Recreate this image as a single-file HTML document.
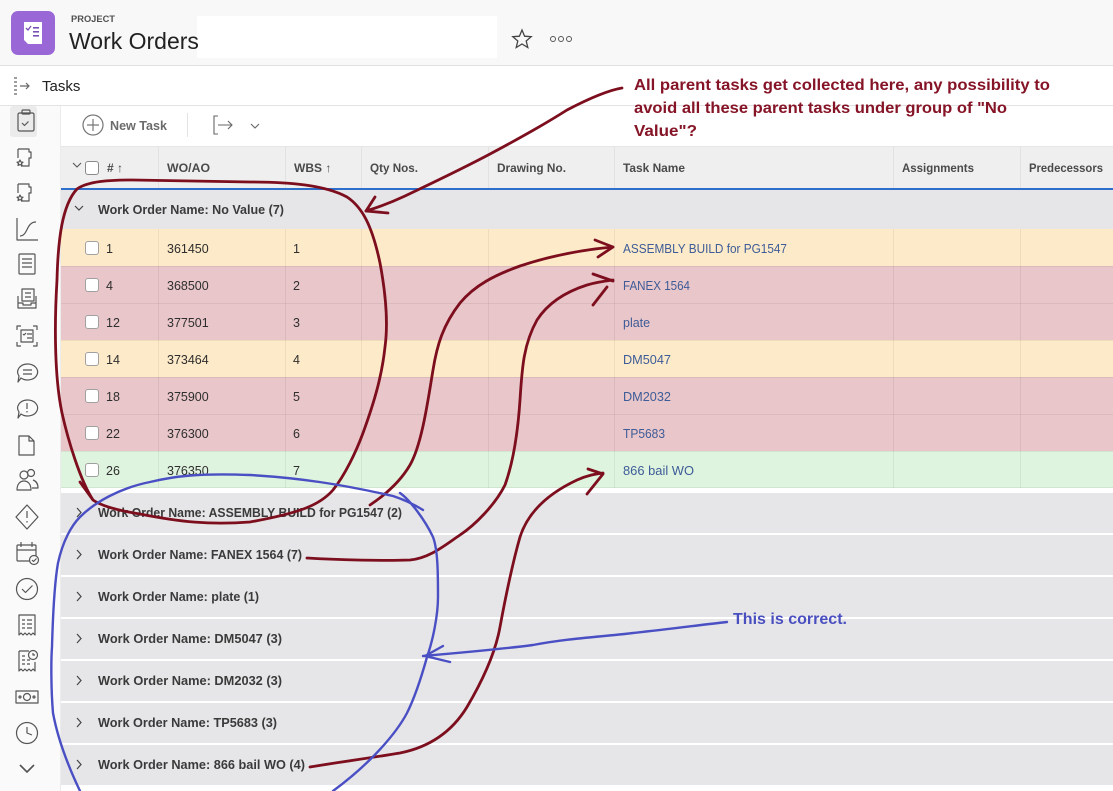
<!DOCTYPE html>
<html><head><meta charset="utf-8"><style>
html,body{margin:0;padding:0;background:#fff;}
svg{display:block;}
text{font-family:"Liberation Sans",Arial,sans-serif;}
</style></head><body>
<svg width="1113" height="791" viewBox="0 0 1113 791" xmlns="http://www.w3.org/2000/svg">
<!-- header -->
<rect x="0" y="0" width="1113" height="65" fill="#f8f8f8"/>
<rect x="197" y="16" width="300" height="42" fill="#ffffff"/>
<rect x="0" y="65" width="1113" height="1" fill="#e0e0e0"/>
<rect x="11" y="11" width="44" height="44" rx="7" fill="#9a68d6"/>
<path d="M24 22 h18 v22 h-14 l-4 -4 z" fill="#fff"/>
<path d="M26 28 l2 2 l3 -4" stroke="#7a50b8" stroke-width="1.3" fill="none"/>
<rect x="33" y="27" width="6" height="1.6" fill="#7a50b8"/><rect x="33" y="31" width="6" height="1.6" fill="#7a50b8"/><rect x="33" y="35" width="6" height="1.6" fill="#7a50b8"/>
<text x="71" y="22" font-size="9" font-weight="bold" fill="#505050" textLength="44" lengthAdjust="spacingAndGlyphs">PROJECT</text>
<text x="69" y="49" font-size="23" fill="#222">Work Orders</text>
<path d="M522 30 l2.6 6.2 l6.6 .5 l-5 4.3 l1.6 6.5 l-5.8 -3.5 l-5.8 3.5 l1.6 -6.5 l-5 -4.3 l6.6 -.5 z" fill="none" stroke="#444" stroke-width="1.3"/>
<circle cx="553" cy="39" r="2.5" fill="none" stroke="#555" stroke-width="1"/><circle cx="561" cy="39" r="2.5" fill="none" stroke="#555" stroke-width="1"/><circle cx="569" cy="39" r="2.5" fill="none" stroke="#555" stroke-width="1"/>
<!-- tasks bar -->
<rect x="0" y="66" width="1113" height="39" fill="#fff"/>
<g stroke="#666" stroke-width="1.2" fill="none"><path d="M14 78 h3 M14 82 h3 M14 86 h3 M14 90 h3 M14 94 h3"/><path d="M20 86 h9 M26 83 l3 3 l-3 3"/></g>
<text x="42" y="91" font-size="15" fill="#222">Tasks</text>
<rect x="0" y="105" width="1113" height="1" fill="#e3e3e3"/>
<!-- sidebar -->
<rect x="0" y="106" width="60" height="685" fill="#fafafa"/>
<rect x="60" y="106" width="1" height="685" fill="#ececec"/>
<rect x="10" y="106" width="27" height="31" rx="3" fill="#ebebeb"/>
<g stroke="#555" stroke-width="1.2" fill="none" stroke-linejoin="round">
<!-- clipboard -->
<rect x="18" y="113" width="16" height="18" rx="1.5"/><rect x="22" y="110" width="8" height="4" rx="1"/><path d="M22 123 l2.5 2.5 l4 -4"/>
<!-- docs with star -->
<path d="M18 149 h11 v3 h2 v6 h-2 v8 h-8 M18 149 v9"/><path d="M20 160 l1 2 l2 .2 l-1.5 1.3 l.5 2 l-2 -1 l-2 1 l.5 -2 l-1.5 -1.3 l2 -.2 z"/>
<path d="M18 184 h11 v3 h2 v6 h-2 v8 h-8 M18 184 v9"/><path d="M20 195 l1 2 l2 .2 l-1.5 1.3 l.5 2 l-2 -1 l-2 1 l.5 -2 l-1.5 -1.3 l2 -.2 z"/>
<!-- s curve -->
<path d="M17 218 v22 h21"/><path d="M20 236 c8 0 6 -14 16 -14"/>
<!-- doc lines -->
<rect x="19" y="254" width="16" height="20" rx="1"/><path d="M22 259 h10 M22 263 h10 M22 267 h10"/>
<!-- inbox stack -->
<rect x="22" y="289" width="12" height="12"/><path d="M18 296 v12 h18 v-12 M18 303 h5 v2 h8 v-2 h5 M25 293 h6 M25 297 h6"/>
<!-- scan list -->
<path d="M17 330 v-4 h4 M33 326 h4 v4 M37 342 v4 h-4 M21 346 h-4 v-4"/><rect x="21" y="330" width="12" height="12"/><path d="M23 334 l1 1 l2 -2 M27 334 h5 M27 338 h5"/>
<!-- chat -->
<path d="M27 364 a10 8 0 1 1 -6 14 l-3 4 l1 -6 a10 8 0 0 1 8 -12 z"/><path d="M23 370 h9 M23 374 h9"/>
<path d="M27 400 a10 8 0 1 1 -6 14 l-3 4 l1 -6 a10 8 0 0 1 8 -12 z"/><path d="M27 403 v6 M27 411 v1.5"/>
<!-- blank doc -->
<path d="M19 436 h10 l5 5 v14 h-15 z M29 436 v5 h5"/>
<!-- people -->
<circle cx="24" cy="475" r="4"/><path d="M17 490 c0 -7 4 -9 7 -9 c3 0 7 2 7 9 z"/><circle cx="31" cy="473" r="3.5"/><path d="M33 480 c3 1 5 3 5 8 h-6"/>
<!-- diamond -->
<path d="M27 505 l11 12 l-11 12 l-11 -12 z"/><path d="M27 511 v7 M27 521 v1.5"/>
<!-- calendar -->
<rect x="17" y="545" width="19" height="16" rx="1"/><path d="M17 550 h19 M21 542 v5 M32 542 v5"/><circle cx="34" cy="560" r="4.5" fill="#fafafa"/><path d="M32 560 l1.5 1.5 l3 -3"/>
<!-- circle check -->
<circle cx="27" cy="589" r="10.5"/><path d="M22 589 l3.5 3.5 l7 -7"/>
<!-- receipt -->
<path d="M19 615 h16 v20 l-2 -2 l-2 2 l-2 -2 l-2 2 l-2 -2 l-2 2 l-2 -2 l-2 2 z M22 620 h3 M27 620 h5 M22 624 h3 M27 624 h5 M22 628 h3 M27 628 h5"/>
<path d="M19 651 h10 M19 651 v20 l2 -2 l2 2 l2 -2 l2 2 l2 -2 l2 2 l2 -2 l2 2 v-9 M22 656 h3 M22 660 h3 M27 660 h3 M22 664 h3 M27 664 h3"/><circle cx="33" cy="655" r="4.5"/><path d="M33 653 v2 h2"/>
<!-- money -->
<rect x="16" y="691" width="22" height="12"/><circle cx="27" cy="697" r="3.5"/><circle cx="20" cy="697" r="1"/><circle cx="34" cy="697" r="1"/>
<!-- clock -->
<circle cx="27" cy="733" r="10.5"/><path d="M27 727 v6 l5 2"/>
<!-- chevron -->
<path d="M20 765 l7 7 l7 -7" stroke-width="1.6"/>
</g>
<!-- toolbar -->
<circle cx="93" cy="125" r="10" fill="none" stroke="#777" stroke-width="1.2"/><path d="M93 119 v12 M87 125 h12" stroke="#777" stroke-width="1.2"/>
<text x="110" y="130" font-size="13" font-weight="bold" fill="#6b6b6b" textLength="57" lengthAdjust="spacingAndGlyphs">New Task</text>
<rect x="187" y="113" width="1" height="24" fill="#e4e4e4"/>
<path d="M218 116 h-4 v18 h4 M218 125 h14 M228 121 l4 4 l-4 4" stroke="#666" stroke-width="1.1" fill="none"/>
<path d="M251 124 l4 4 l4 -4" stroke="#666" stroke-width="1.1" fill="none"/>
<rect x="61" y="146" width="1052" height="1" fill="#e6e6e6"/>
<!-- table header -->
<rect x="61" y="147" width="1052" height="41" fill="#efefef"/>
<g fill="#e2e2e2"><rect x="158" y="147" width="1" height="41"/><rect x="285" y="147" width="1" height="41"/><rect x="361" y="147" width="1" height="41"/><rect x="488" y="147" width="1" height="41"/><rect x="614" y="147" width="1" height="41"/><rect x="893" y="147" width="1" height="41"/><rect x="1020" y="147" width="1" height="41"/></g>
<path d="M73 163 l4 4 l4 -4" stroke="#555" stroke-width="1.1" fill="none"/>
<rect x="85.5" y="161.5" width="13" height="13" rx="2.5" fill="#fff" stroke="#8a8a8a"/>
<g font-size="12" font-weight="bold" fill="#4a4a4a">
<text x="107" y="172">#  ↑</text>
<text x="167" y="172" textLength="43" lengthAdjust="spacingAndGlyphs">WO/AO</text>
<text x="294" y="172">WBS ↑</text>
<text x="370" y="172" textLength="48" lengthAdjust="spacingAndGlyphs">Qty Nos.</text>
<text x="497" y="172" textLength="69" lengthAdjust="spacingAndGlyphs">Drawing No.</text>
<text x="623" y="172" textLength="62" lengthAdjust="spacingAndGlyphs">Task Name</text>
<text x="902" y="172" textLength="72" lengthAdjust="spacingAndGlyphs">Assignments</text>
<text x="1029" y="172" textLength="74" lengthAdjust="spacingAndGlyphs">Predecessors</text>
</g>
<rect x="61" y="188" width="1052" height="2" fill="#2f6fcc"/>
<!-- group No Value -->
<rect x="61" y="190" width="1052" height="39" fill="#e6e6e8"/>
<path d="M75 206 l4 4 l4 -4" stroke="#444" stroke-width="1.2" fill="none"/>
<text x="98" y="214" font-size="13" font-weight="bold" fill="#3a3a3a" textLength="186" lengthAdjust="spacingAndGlyphs">Work Order Name: No Value (7)</text>
<!-- data rows -->
<rect x="61" y="229" width="1052" height="37" fill="#fdeac8"/>
<rect x="61" y="266" width="1052" height="37" fill="#e9c6c9"/>
<rect x="61" y="303" width="1052" height="37" fill="#e9c6c9"/>
<rect x="61" y="340" width="1052" height="37" fill="#fdeac8"/>
<rect x="61" y="377" width="1052" height="37" fill="#e9c6c9"/>
<rect x="61" y="414" width="1052" height="37" fill="#e9c6c9"/>
<rect x="61" y="451" width="1052" height="37" fill="#dff4df"/>
<g fill="#000" fill-opacity="0.06"><rect x="61" y="266" width="1052" height="1"/><rect x="61" y="303" width="1052" height="1"/><rect x="61" y="340" width="1052" height="1"/><rect x="61" y="377" width="1052" height="1"/><rect x="61" y="414" width="1052" height="1"/><rect x="61" y="451" width="1052" height="1"/><rect x="61" y="487" width="1052" height="1"/>
<rect x="158" y="229" width="1" height="259"/><rect x="285" y="229" width="1" height="259"/><rect x="361" y="229" width="1" height="259"/><rect x="488" y="229" width="1" height="259"/><rect x="614" y="229" width="1" height="259"/><rect x="893" y="229" width="1" height="259"/><rect x="1020" y="229" width="1" height="259"/></g>
<g fill="#fff" stroke="#a0a0a0">
<rect x="85.5" y="241.5" width="13" height="13" rx="2.5"/><rect x="85.5" y="278.5" width="13" height="13" rx="2.5"/><rect x="85.5" y="315.5" width="13" height="13" rx="2.5"/><rect x="85.5" y="352.5" width="13" height="13" rx="2.5"/><rect x="85.5" y="389.5" width="13" height="13" rx="2.5"/><rect x="85.5" y="426.5" width="13" height="13" rx="2.5"/><rect x="85.5" y="463.5" width="13" height="13" rx="2.5"/>
</g>
<g font-size="12.5" fill="#2e2e2e">
<text x="106" y="253">1</text><text x="167" y="253">361450</text><text x="293" y="253">1</text>
<text x="106" y="290">4</text><text x="167" y="290">368500</text><text x="293" y="290">2</text>
<text x="106" y="327">12</text><text x="167" y="327">377501</text><text x="293" y="327">3</text>
<text x="106" y="364">14</text><text x="167" y="364">373464</text><text x="293" y="364">4</text>
<text x="106" y="401">18</text><text x="167" y="401">375900</text><text x="293" y="401">5</text>
<text x="106" y="438">22</text><text x="167" y="438">376300</text><text x="293" y="438">6</text>
<text x="106" y="475">26</text><text x="167" y="475">376350</text><text x="293" y="475">7</text>
</g>
<g font-size="12.5" fill="#3d5c98">
<text x="623" y="253" textLength="164" lengthAdjust="spacingAndGlyphs">ASSEMBLY BUILD for PG1547</text>
<text x="623" y="290" textLength="67" lengthAdjust="spacingAndGlyphs">FANEX 1564</text>
<text x="623" y="327">plate</text>
<text x="623" y="364" textLength="48" lengthAdjust="spacingAndGlyphs">DM5047</text>
<text x="623" y="401" textLength="48" lengthAdjust="spacingAndGlyphs">DM2032</text>
<text x="623" y="438" textLength="42" lengthAdjust="spacingAndGlyphs">TP5683</text>
<text x="623" y="475" textLength="71" lengthAdjust="spacingAndGlyphs">866 bail WO</text>
</g>
<!-- group rows -->
<g fill="#e6e6e8">
<rect x="61" y="493" width="1052" height="40"/><rect x="61" y="535" width="1052" height="40"/><rect x="61" y="577" width="1052" height="40"/><rect x="61" y="619" width="1052" height="40"/><rect x="61" y="661" width="1052" height="40"/><rect x="61" y="703" width="1052" height="40"/><rect x="61" y="745" width="1052" height="40"/>
</g>
<g stroke="#444" stroke-width="1.2" fill="none">
<path d="M77 508 l4 4.5 l-4 4.5"/><path d="M77 550 l4 4.5 l-4 4.5"/><path d="M77 592 l4 4.5 l-4 4.5"/><path d="M77 634 l4 4.5 l-4 4.5"/><path d="M77 676 l4 4.5 l-4 4.5"/><path d="M77 718 l4 4.5 l-4 4.5"/><path d="M77 760 l4 4.5 l-4 4.5"/>
</g>
<g font-size="13" font-weight="bold" fill="#3a3a3a">
<text x="98" y="517" textLength="304" lengthAdjust="spacingAndGlyphs">Work Order Name: ASSEMBLY BUILD for PG1547 (2)</text>
<text x="98" y="559" textLength="204" lengthAdjust="spacingAndGlyphs">Work Order Name: FANEX 1564 (7)</text>
<text x="98" y="601" textLength="161" lengthAdjust="spacingAndGlyphs">Work Order Name: plate (1)</text>
<text x="98" y="643" textLength="184" lengthAdjust="spacingAndGlyphs">Work Order Name: DM5047 (3)</text>
<text x="98" y="685" textLength="184" lengthAdjust="spacingAndGlyphs">Work Order Name: DM2032 (3)</text>
<text x="98" y="727" textLength="179" lengthAdjust="spacingAndGlyphs">Work Order Name: TP5683 (3)</text>
<text x="98" y="769" textLength="207" lengthAdjust="spacingAndGlyphs">Work Order Name: 866 bail WO (4)</text>
</g>
<!-- annotations red -->
<g stroke="#7c0e1e" stroke-width="2.8" fill="none" stroke-linecap="round" stroke-linejoin="round">
<path d="M93 500 C80 480 68 440 62 413 C55 380 54 330 57 280 C58 240 62 205 77 189 C88 181 110 180 133 180 L250 182 C290 182 325 185 347 197 C362 207 372 225 380 263 C386 295 388 325 385 347 C382 375 375 400 363 433 C356 452 345 475 333 490 C320 505 300 513 250 522 C210 525 180 522 140 514 C115 510 100 505 93 500 L80 482"/>
<path d="M622 88 C610 90 590 98 567 110 C545 124 520 138 490 154 C460 170 430 184 405 196 C390 203 376 208 366 211"/>
<path d="M375 197 L366 211 L388 213"/>
<path d="M370 505 C385 495 400 482 410 465 C422 444 428 400 433 370 C437 345 443 325 460 303 C475 285 495 275 520 266 C550 256 580 250 613 247"/>
<path d="M595 240 L613 247 L598 257"/>
<path d="M307 558 C340 560 385 561 410 560 C430 558 445 545 460 535 C475 525 495 505 505 485 C514 460 518 430 520 400 C522 370 523 345 537 320 C548 303 565 292 587 285 C597 282 605 281 613 280"/>
<path d="M593 274 L613 281 M593 305 L607 287"/>
<path d="M310 767 C340 762 370 758 400 753 C425 748 450 735 467 707 C480 685 495 655 500 627 C505 600 512 565 520 537 C527 515 545 495 577 480 C588 475 596 474 603 473"/>
<path d="M588 469 L603 474 L587 494"/>
</g>
<!-- annotations blue -->
<g stroke="#4a4fc4" stroke-width="2.4" fill="none" stroke-linecap="round" stroke-linejoin="round">
<path d="M80 791 C70 770 58 740 53 713 C51 690 51 660 52 647 C53 610 55 580 58 563 C63 540 72 525 80 517 C95 502 120 488 150 482 C175 476 200 473 250 475 C300 478 340 484 393 496 C405 500 415 505 423 510"/>
<path d="M400 493 C410 500 425 520 433 537 C438 550 438 575 438 597 C438 615 433 640 427 657 C422 675 416 695 407 713 C398 730 375 760 333 791"/>
<path d="M727 622 C700 625 670 629 633 633 C600 637 570 638 533 645 C510 648 470 652 423 656"/>
<path d="M443 646 L425 656 L450 662"/>
</g>
<g font-weight="bold" font-size="16" fill="#861427">
<text x="634" y="90" textLength="416" lengthAdjust="spacingAndGlyphs">All parent tasks get collected here, any possibility to</text>
<text x="634" y="113" textLength="373" lengthAdjust="spacingAndGlyphs">avoid all these parent tasks under group of "No</text>
<text x="634" y="136" textLength="63" lengthAdjust="spacingAndGlyphs">Value"?</text>
</g>
<text x="733" y="624" font-weight="bold" font-size="16" fill="#4a4fc0" textLength="114" lengthAdjust="spacingAndGlyphs">This is correct.</text>
</svg>
</body></html>
